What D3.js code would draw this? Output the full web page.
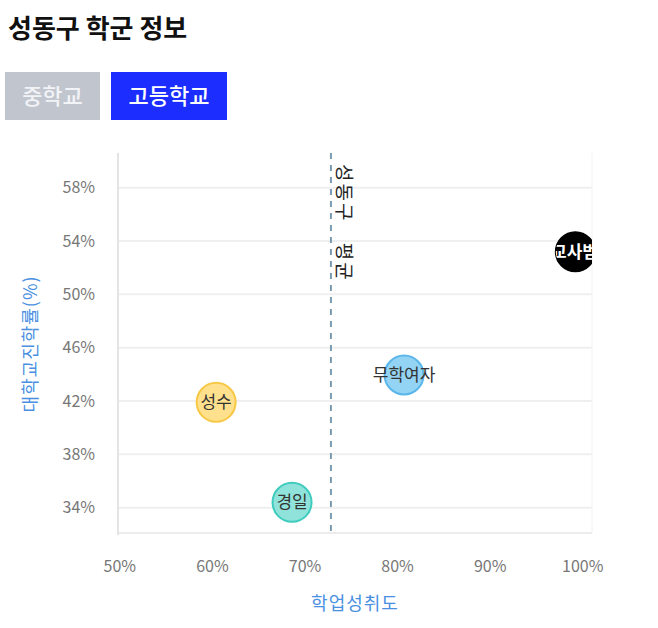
<!DOCTYPE html>
<meta charset="utf-8">
<html>
  <head>
    <style>
      body { margin: 0; background: #fff; font-family: "Noto Sans CJK KR", "Noto Sans", sans-serif; }
      text.tick { font-size: 16px; fill: #777; }
      text.axis-title { font-size: 18px; fill: #4a90e2; letter-spacing: 1px; }
      text.school { font-size: 17px; fill: #333; }
    </style>
    <script src="https://cdn.jsdelivr.net/npm/d3@7"></script>
  </head>
  <body>
    <div id="chart"></div>
    <script>
    // 학교별 데이터
    var schools = ["성수", "경일", "무학여자", "한양대학교사범대학부속고"];
    var achievement = [0.604, 0.686, 0.807, 0.992];   // 학업성취도
    var collegeRate = [41.9, 34.4, 43.95, 53.2];       // 대학교진학률(%)
    var fillColors = ["#ffe08c", "#8fe3da", "#93d3f3", "#000000"];
    var strokeColors = ["#f7c845", "#3fcbbd", "#5bb6ea", "#000000"];
    var labelColors = ["#333", "#333", "#333", "#fff"];
    var avgAchievement = 0.728;                        // 성동구 평균
    var xTicks = [0.5, 0.6, 0.7, 0.8, 0.9, 1.0];
    var yTicks = [34, 38, 42, 46, 50, 54, 58];
    var tabs = ["중학교", "고등학교"];

    var margin = { top: 153, left: 118 },
        width = 474,
        height = 380;

    var svg = d3.select("#chart").append("svg")
        .attr("width", 658)
        .attr("height", 628);

    // 제목
    svg.append("text")
        .attr("x", 8).attr("y", 38)
        .style("font-size", "26px").style("font-weight", "bold").style("fill", "#111")
        .text("성동구 학군 정보");

    // 탭 버튼
    var tabX = [5, 111], tabW = [95, 116];
    tabs.forEach(function (t, i) {
        svg.append("rect")
            .attr("x", tabX[i]).attr("y", 72)
            .attr("width", tabW[i]).attr("height", 48)
            .style("fill", i == 1 ? "#1b2eff" : "#c1c5ce");
        svg.append("text")
            .attr("x", tabX[i] + tabW[i] / 2).attr("y", 104)
            .style("text-anchor", "middle")
            .style("font-size", "22px")
            .style("font-weight", "500")
            .style("fill", i == 1 ? "#fff" : "#f2f3f6")
            .text(t);
    });

    var x = d3.scaleLinear().domain([0.498, 1.01]).range([0, width]);
    var y = d3.scaleLinear().domain([32.1, 60.6]).range([height, 0]);

    var g = svg.append("g")
        .attr("transform", "translate(" + margin.left + "," + margin.top + ")");

    g.append("clipPath").attr("id", "plot-clip")
      .append("rect").attr("width", width).attr("height", height);

    // 격자선
    g.selectAll(".grid")
        .data(yTicks)
        .enter().append("line")
        .attr("x1", 0).attr("x2", width)
        .attr("y1", function (d) { return y(d); })
        .attr("y2", function (d) { return y(d); })
        .style("stroke", "#efefef").style("stroke-width", 2);

    // 테두리
    g.append("line").attr("x1", width).attr("x2", width).attr("y1", 0).attr("y2", height)
        .style("stroke", "#f2f2f2").style("stroke-width", 1);
    g.append("line").attr("x1", 0).attr("x2", width).attr("y1", height).attr("y2", height)
        .style("stroke", "#ececec").style("stroke-width", 2);
    g.append("line").attr("x1", 0).attr("x2", 0).attr("y1", 0).attr("y2", height + 2)
        .style("stroke", "#e4e4e4").style("stroke-width", 2);

    // 눈금 라벨
    g.selectAll(".ytick")
        .data(yTicks)
        .enter().append("text")
        .attr("class", "tick")
        .attr("x", -23)
        .attr("y", function (d) { return y(d); })
        .attr("dy", "0.35em")
        .style("text-anchor", "end")
        .text(function (d) { return d + "%"; });

    g.selectAll(".xtick")
        .data(xTicks)
        .enter().append("text")
        .attr("class", "tick")
        .attr("x", function (d) { return x(d); })
        .attr("y", height + 33)
        .attr("dy", "0.35em")
        .style("text-anchor", "middle")
        .text(function (d) { return Math.round(d * 100) + "%"; });

    // 축 제목
    svg.append("text")
        .attr("class", "axis-title")
        .attr("transform", "translate(37,344) rotate(-90)")
        .style("text-anchor", "middle")
        .text("대학교진학률(%)");

    svg.append("text")
        .attr("class", "axis-title")
        .attr("x", margin.left + width / 2)
        .attr("y", 610)
        .style("text-anchor", "middle")
        .text("학업성취도");

    // 평균선
    g.append("line")
        .attr("x1", x(avgAchievement)).attr("x2", x(avgAchievement))
        .attr("y1", 0).attr("y2", height)
        .style("stroke", "#7b9bb3").style("stroke-width", 2)
        .style("stroke-dasharray", "6,6");

    g.append("text")
        .attr("transform", "translate(" + (x(avgAchievement) + 6) + ",11) rotate(90)")
        .style("font-size", "19px").style("fill", "#222")
        .style("letter-spacing", "2px")
        .style("word-spacing", "14px")
        .text("성동구 평균");

    // 학교 원
    var plot = g.append("g").attr("clip-path", "url(#plot-clip)");
    var idx = d3.range(schools.length);

    plot.selectAll(".dot")
        .data(idx)
        .enter().append("circle")
        .attr("cx", function (i) { return x(achievement[i]); })
        .attr("cy", function (i) { return y(collegeRate[i]); })
        .attr("r", 19.5)
        .style("fill", function (i) { return fillColors[i]; })
        .style("stroke", function (i) { return strokeColors[i]; })
        .style("stroke-width", 2);

    // 원 안쪽만 보이도록 라벨을 원으로 자름
    idx.forEach(function (i) {
        g.append("clipPath").attr("id", "dot-clip-" + i)
          .append("circle")
            .attr("cx", x(achievement[i]))
            .attr("cy", y(collegeRate[i]))
            .attr("r", 19.5);
    });

    plot.selectAll(".school")
        .data(idx)
        .enter().append("text")
        .attr("class", "school")
        .attr("x", function (i) { return x(achievement[i]); })
        .attr("y", function (i) { return y(collegeRate[i]); })
        .attr("dx", function (i) { return i == 3 ? 7 : 0; })
        .attr("dy", "0.35em")
        .attr("clip-path", function (i) { return i == 3 ? "url(#dot-clip-3)" : null; })
        .style("text-anchor", "middle")
        .style("fill", function (i) { return labelColors[i]; })
        .style("font-weight", function (i) { return i == 3 ? "bold" : "normal"; })
        .text(function (i) { return schools[i]; });
    </script>
  </body>
</html>
